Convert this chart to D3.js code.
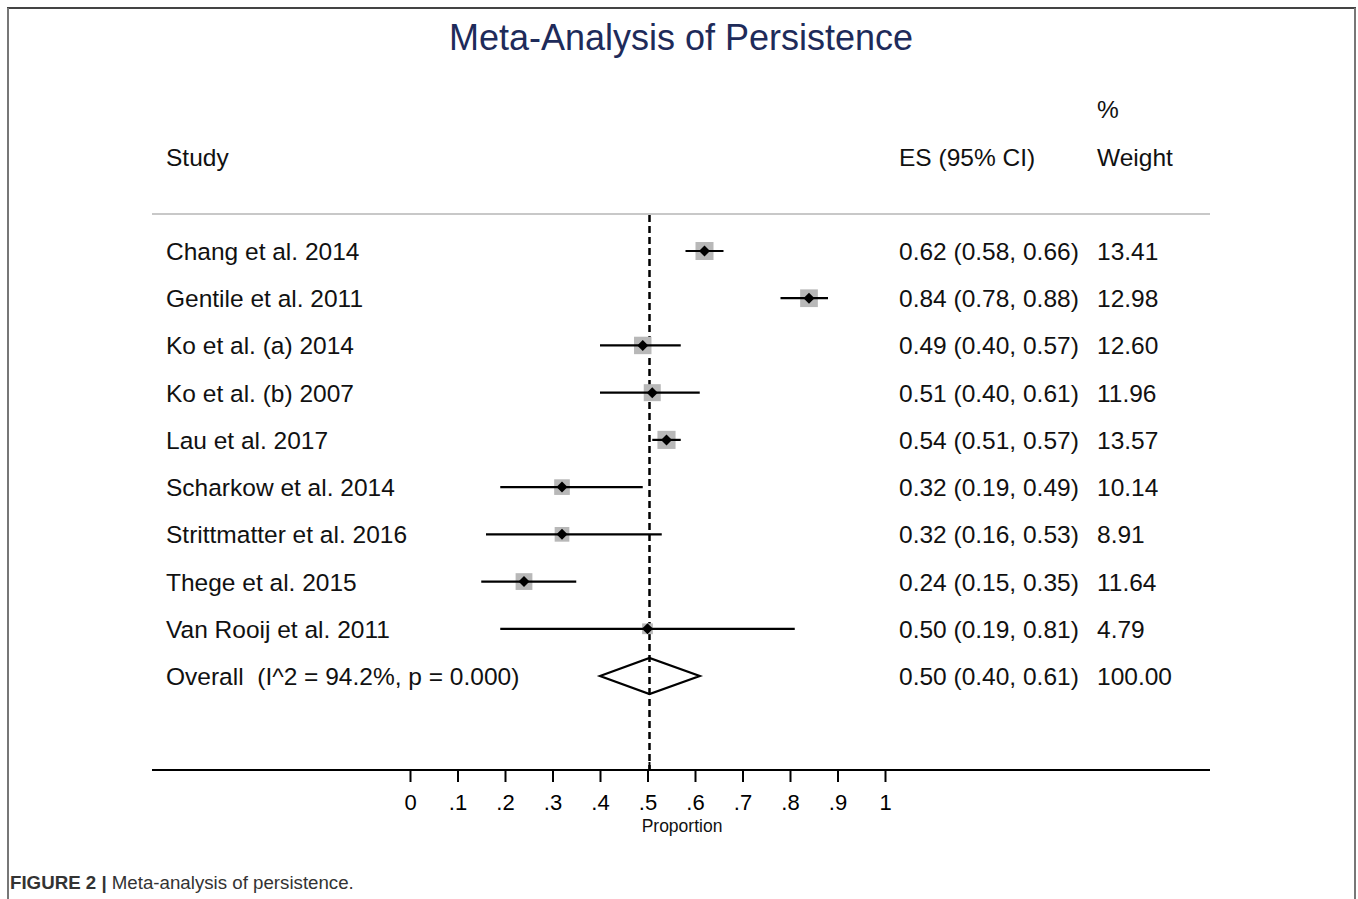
<!DOCTYPE html>
<meta charset="utf-8">
<script src="https://d3js.org/d3.v7.min.js"></script>
<style>
  body { margin: 0; background: #fff; }
  text { font-family: "Liberation Sans", Arial, sans-serif; white-space: pre; }
</style>
<div id="chart"></div>
<script>
  // study rows
  const studies = ["Chang et al. 2014", "Gentile et al. 2011", "Ko et al. (a) 2014", "Ko et al. (b) 2007",
    "Lau et al. 2017", "Scharkow et al. 2014", "Strittmatter et al. 2016", "Thege et al. 2015", "Van Rooij et al. 2011"];
  const es = [0.62, 0.84, 0.49, 0.51, 0.54, 0.32, 0.32, 0.24, 0.50];
  const lo = [0.58, 0.78, 0.40, 0.40, 0.51, 0.19, 0.16, 0.15, 0.19];
  const hi = [0.66, 0.88, 0.57, 0.61, 0.57, 0.49, 0.53, 0.35, 0.81];
  const weights = [13.41, 12.98, 12.60, 11.96, 13.57, 10.14, 8.91, 11.64, 4.79];

  // pooled estimate
  const overallLabel = "Overall  (I^2 = 94.2%, p = 0.000)";
  const overall = { es: 0.50, lo: 0.40, hi: 0.61, weight: 100.00 };

  const ticks = [0, 0.1, 0.2, 0.3, 0.4, 0.5, 0.6, 0.7, 0.8, 0.9, 1];

  const W = 1358, H = 899;
  const svg = d3.select("#chart").append("svg")
    .attr("width", W).attr("height", H);

  // frame
  svg.append("line").attr("x1", 7).attr("x2", 1356).attr("y1", 8).attr("y2", 8)
    .attr("stroke", "#444").attr("stroke-width", 2);
  svg.append("line").attr("x1", 8).attr("x2", 8).attr("y1", 8).attr("y2", H)
    .attr("stroke", "#777").attr("stroke-width", 2);
  svg.append("line").attr("x1", 1355).attr("x2", 1355).attr("y1", 8).attr("y2", H)
    .attr("stroke", "#777").attr("stroke-width", 2);

  const x = d3.scaleLinear().domain([0, 1]).range([410, 885]);
  const rows = studies.concat([overallLabel]);
  const y = d3.scalePoint().domain(rows).range([251, 676]);

  // title
  svg.append("text")
    .attr("x", 681).attr("y", 50)
    .attr("text-anchor", "middle")
    .style("font-size", "36px")
    .attr("fill", "#1e2b5a")
    .text("Meta-Analysis of Persistence");

  // headers
  const hdr = svg.append("g").style("font-size", "24.5px").attr("fill", "#111");
  hdr.append("text").attr("x", 166).attr("y", 166).text("Study");
  hdr.append("text").attr("x", 899).attr("y", 166).text("ES (95% CI)");
  hdr.append("text").attr("x", 1097).attr("y", 118).text("%");
  hdr.append("text").attr("x", 1097).attr("y", 166).text("Weight");

  svg.append("line").attr("x1", 152).attr("x2", 1210).attr("y1", 214).attr("y2", 214)
    .attr("stroke", "#c8c8c8").attr("stroke-width", 2);

  // pooled reference line
  svg.append("line")
    .attr("x1", x(overall.es) + 2).attr("x2", x(overall.es) + 2)
    .attr("y1", 215).attr("y2", 770)
    .attr("stroke", "#000").attr("stroke-width", 2.5)
    .attr("stroke-dasharray", "7,4");

  const data = studies.map((s, i) => ({ s, es: es[i], lo: lo[i], hi: hi[i], w: weights[i] }));

  const k = 18 / Math.sqrt(13.41);
  const g = svg.append("g");

  // weight squares
  g.selectAll("rect.wt").data(data).enter().append("rect")
    .attr("x", d => x(d.es) - k * Math.sqrt(d.w) / 2)
    .attr("y", d => y(d.s) - k * Math.sqrt(d.w) / 2)
    .attr("width", d => k * Math.sqrt(d.w))
    .attr("height", d => k * Math.sqrt(d.w))
    .attr("fill", "#b8b8b8");

  // CI lines
  g.selectAll("line.ci").data(data).enter().append("line")
    .attr("x1", d => x(d.lo)).attr("x2", d => x(d.hi))
    .attr("y1", d => y(d.s)).attr("y2", d => y(d.s))
    .attr("stroke", "#000").attr("stroke-width", 2.2);

  // point diamonds
  g.selectAll("path.pt").data(data).enter().append("path")
    .attr("d", d => {
      const cx = x(d.es), cy = y(d.s), r = 5.5;
      return `M${cx},${cy - r}L${cx + r},${cy}L${cx},${cy + r}L${cx - r},${cy}Z`;
    })
    .attr("fill", "#000");

  // overall diamond
  const oy = y(overallLabel);
  svg.append("path")
    .attr("d", `M${x(overall.lo)},${oy}L${x(overall.es) + 2},${oy - 18}L${x(overall.hi)},${oy}L${x(overall.es) + 2},${oy + 18}Z`)
    .attr("fill", "none").attr("stroke", "#000").attr("stroke-width", 2.2);

  // row text
  const tx = svg.append("g").style("font-size", "24.5px").attr("fill", "#111");
  tx.selectAll("text.lab").data(rows).enter().append("text")
    .attr("x", 166).attr("y", d => y(d) + 9).text(d => d);
  const f = d3.format(".2f");
  const esRows = data.map(d => ({ s: d.s, t: `${f(d.es)} (${f(d.lo)}, ${f(d.hi)})`, w: f(d.w) }))
    .concat([{ s: overallLabel, t: `${f(overall.es)} (${f(overall.lo)}, ${f(overall.hi)})`, w: f(overall.weight) }]);
  tx.selectAll("text.es").data(esRows).enter().append("text")
    .attr("x", 899).attr("y", d => y(d.s) + 9).text(d => d.t);
  tx.selectAll("text.wt").data(esRows).enter().append("text")
    .attr("x", 1097).attr("y", d => y(d.s) + 9).text(d => d.w);

  // axis
  svg.append("line").attr("x1", 152).attr("x2", 1210).attr("y1", 770).attr("y2", 770)
    .attr("stroke", "#000").attr("stroke-width", 2);
  const ax = svg.append("g").attr("transform", "translate(0,770)")
    .call(d3.axisBottom(x).tickValues(ticks).tickSize(12).tickPadding(12)
      .tickFormat(d => d === 0 ? "0" : d === 1 ? "1" : d3.format(".1f")(d).replace(/^0/, "")));
  ax.select(".domain").remove();
  ax.selectAll(".tick line").attr("stroke-width", 2);
  ax.selectAll(".tick text").style("font-size", "22px")
    .style("font-family", "'Liberation Sans', Arial, sans-serif").attr("fill", "#000");
  svg.append("line").attr("x1", x(0.5) + 2).attr("x2", x(0.5) + 2).attr("y1", 762).attr("y2", 770)
    .attr("stroke", "#000").attr("stroke-width", 2);
  svg.append("text").attr("x", 682).attr("y", 832).attr("text-anchor", "middle")
    .style("font-size", "17.5px").attr("fill", "#111").text("Proportion");

  // caption
  const cap = svg.append("text").attr("x", 10).attr("y", 889)
    .style("font-size", "18.7px").attr("fill", "#333");
  cap.append("tspan").style("font-weight", "bold").text("FIGURE 2 | ");
  cap.append("tspan").text("Meta-analysis of persistence.");
</script>
